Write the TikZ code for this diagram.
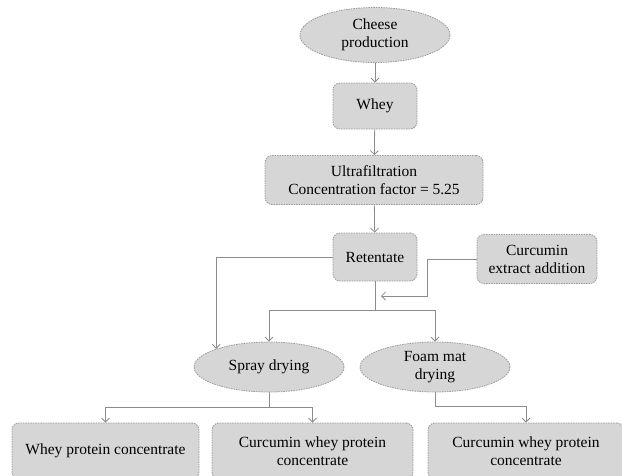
\documentclass[tikz,border=0pt]{standalone}
\usepackage{fontspec}
\setmainfont{Liberation Serif}
\usepackage{tikz}
\usetikzlibrary{arrows.meta, shapes.geometric, calc}

\definecolor{boxfill}{HTML}{D6D6D6}
\definecolor{boxline}{HTML}{9A9A9A}
\definecolor{linkgray}{HTML}{8C8C8C}

\begin{document}
\begin{tikzpicture}[x=1pt, y=-1pt,
    every node/.style = {font=\fontsize{15.5}{18}\selectfont, align=center,
                         inner sep=0pt},
    box/.style   = {draw=boxline, fill=boxfill, rounded corners=7pt,
                    dash pattern=on 1.5pt off 1pt, line width=0.8pt},
    oval/.style  = {ellipse, draw=boxline, fill=boxfill,
                    dash pattern=on 1.5pt off 1pt, line width=0.8pt},
    link/.style  = {draw=linkgray, line width=0.8pt},
    >={Straight Barb[length=4pt,width=8pt]}
  ]
  \useasboundingbox (0,0) rectangle (622,475);
  \clip (0,0) rectangle (622,475);

  % top chain
  \node[oval, minimum width=150pt, minimum height=55pt] (cheese) at (375,35) {Cheese\\production};
  \node[box, minimum width=84pt, minimum height=46pt] (whey) at (375,106) {Whey};
  \node[box, minimum width=218pt, minimum height=49pt] (uf) at (374,180) {Ultrafiltration\\Concentration factor = 5.25};
  \node[box, minimum width=84pt, minimum height=48pt] (ret) at (375,257) {Retentate};
  \node[box, minimum width=120pt, minimum height=49pt] (cur) at (537,259) {Curcumin\\extract addition};

  % drying
  \node[oval, minimum width=150pt, minimum height=50pt] (spray) at (269,367) {Spray drying};
  \node[oval, minimum width=150pt, minimum height=50pt] (foam) at (435,367) {Foam mat\\drying};

  % products
  \node[box, minimum width=187pt, minimum height=56pt] (wpc) at (105.5,451) {Whey protein concentrate};
  \node[box, minimum width=201pt, minimum height=56pt] (cwpcA) at (312.5,451) {Curcumin whey protein\\concentrate};
  \node[box, minimum width=196pt, minimum height=56pt] (cwpcB) at (526,451) {Curcumin whey protein\\concentrate};

  \coordinate (split) at (375,310);
  \coordinate (mix) at (381,296);
  \coordinate (spsplit) at (269,407);
  \coordinate (fmsplit) at (435,406);

  \draw[link,->] (cheese) -- (whey);
  \draw[link,->] (whey) -- (uf);
  \draw[link,->] (uf) -- (ret);
  \draw[link,->] (ret.west) -| (spray.161);
  \draw[link] (ret.south) -- (split);
  \draw[link,->] (split) -| (spray.north);
  \draw[link,->] (split) -| (foam.north);
  \draw[link,->] (cur.west) -- ++(-49,0) |- (mix);
  \draw[link] (spray.south) -- (spsplit);
  \draw[link,->] (spsplit) -| (wpc.north);
  \draw[link,->] (spsplit) -| (cwpcA.north);
  \draw[link,->] (foam.south) |- (fmsplit) -| (cwpcB.north);
\end{tikzpicture}
\end{document}
